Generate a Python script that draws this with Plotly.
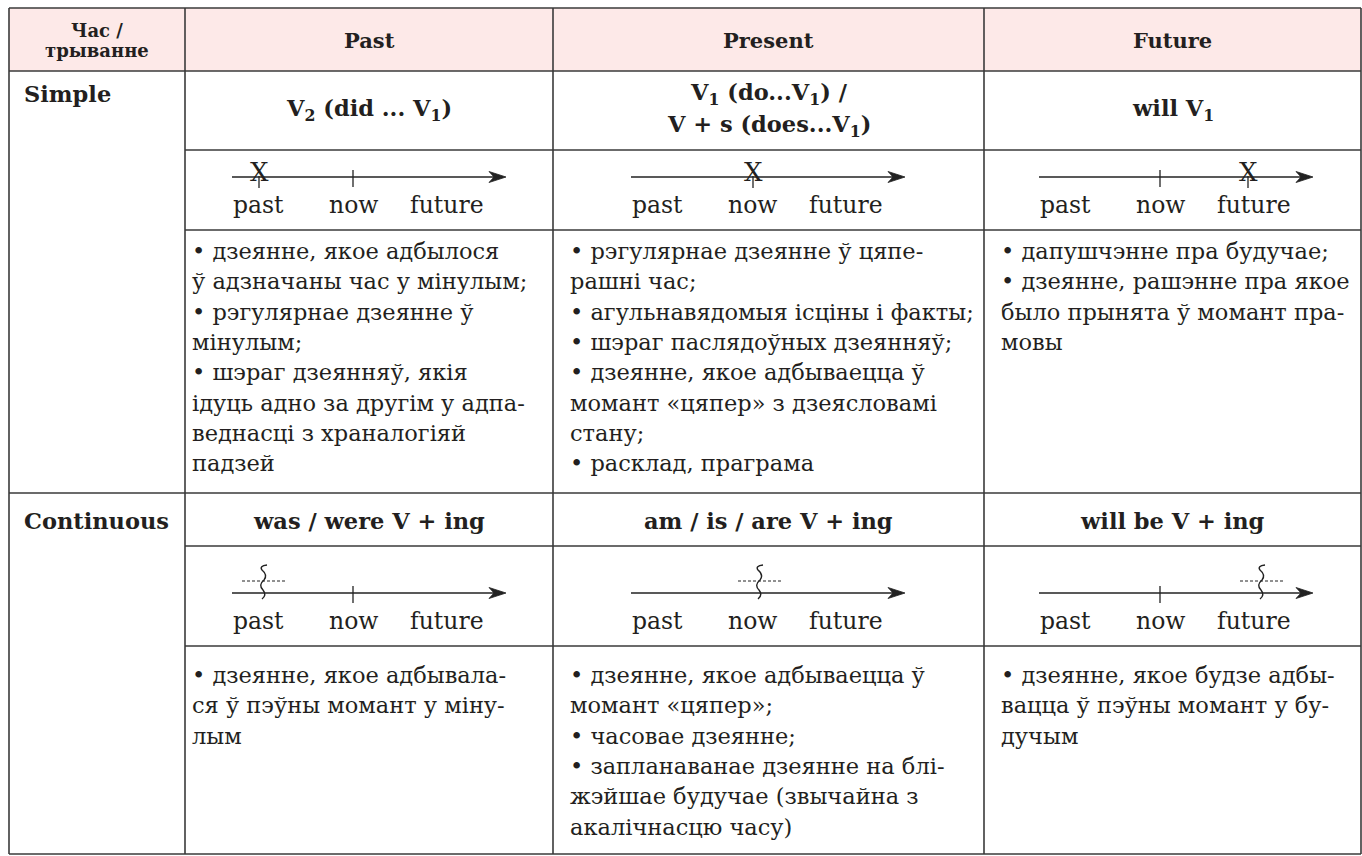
import plotly.graph_objects as go

# ---------------- data (texts) ----------------
header_labels = ["Час /<br>трыванне", "Past", "Present", "Future"]
aspect_labels = ["Simple", "Continuous"]

simple_formulas = [
    ["V<sub>2</sub> (did ... V<sub>1</sub>)"],
    ["V<sub>1</sub> (do...V<sub>1</sub>) /", "V + s (does...V<sub>1</sub>)"],
    ["will V<sub>1</sub>"],
]
continuous_formulas = [
    ["was / were V + ing"],
    ["am / is / are V + ing"],
    ["will be V + ing"],
]
timeline_words = ["past", "now", "future"]
# index of the timeline word where the event is marked, per column
simple_marks = [0, 1, 2]
continuous_marks = [0, 1, 2]

simple_uses = [
    ["• дзеянне, якое адбылося",
     "ў адзначаны час у мінулым;",
     "• рэгулярнае дзеянне ў",
     "мінулым;",
     "• шэраг дзеянняў, якія",
     "ідуць адно за другім у адпа-",
     "веднасці з храналогіяй",
     "падзей"],
    ["• рэгулярнае дзеянне ў цяпе-",
     "рашні час;",
     "• агульнавядомыя ісціны і факты;",
     "• шэраг паслядоўных дзеянняў;",
     "• дзеянне, якое адбываецца ў",
     "момант «цяпер» з дзеясловамі",
     "стану;",
     "• расклад, праграма"],
    ["• дапушчэнне пра будучае;",
     "• дзеянне, рашэнне пра якое",
     "было прынята ў момант пра-",
     "мовы"],
]
continuous_uses = [
    ["• дзеянне, якое адбывала-",
     "ся ў пэўны момант у міну-",
     "лым"],
    ["• дзеянне, якое адбываецца ў",
     "момант «цяпер»;",
     "• часовае дзеянне;",
     "• запланаванае дзеянне на блі-",
     "жэйшае будучае (звычайна з",
     "акалічнасцю часу)"],
    ["• дзеянне, якое будзе адбы-",
     "вацца ў пэўны момант у бу-",
     "дучым"],
]

# ---------------- layout constants ----------------
W, H = 1362, 856
COL_X = [9, 185, 553, 984, 1361]
ROW_Y = [8, 71, 150, 230, 493, 546, 646, 854]
ARROW_START = [232, 631, 1039]
WORD_OFFSETS = [26, 121, 215]      # label centres relative to arrow start
MARK_OFFSETS_S = [27, 122, 209]
MARK_OFFSETS_C = [31, 128, 222]
ARROW_LEN = 274
TEXT_LEFT = [190, 568, 999]
LINE_H = 30.3
BODY_SIZE = 22.5

FONT = "DejaVu Serif, Liberation Serif, Noto Serif, serif"
INK = "#231f20"
LINE = "#3a3a3a"
PINK = "#fde9e8"

fig = go.Figure()
shapes = []
ann = []


def text(x, y, s, size, bold=False, xanchor="center"):
    ann.append(dict(x=x, y=y, xref="x", yref="y", text=(f"<b>{s}</b>" if bold else s),
                    showarrow=False, xanchor=xanchor, yanchor="middle",
                    font=dict(family=FONT, size=size, color=INK)))


def seg(x0, y0, x1, y1, width=1.5, color=LINE, dash=None):
    d = dict(type="line", x0=x0, y0=y0, x1=x1, y1=y1, xref="x", yref="y",
             line=dict(color=color, width=width))
    if dash:
        d["line"]["dash"] = dash
    shapes.append(d)


# header background
shapes.append(dict(type="rect", x0=COL_X[0], x1=COL_X[-1], y0=ROW_Y[0], y1=ROW_Y[1],
                   xref="x", yref="y", fillcolor=PINK, line=dict(width=0), layer="below"))

# grid lines
for x in COL_X:
    seg(x, ROW_Y[0], x, ROW_Y[-1], width=1.6)
for i, y in enumerate(ROW_Y):
    if i in (0, 1, 4, 7):
        seg(COL_X[0], y, COL_X[-1], y, width=1.6)
    else:
        seg(COL_X[1], y, COL_X[-1], y, width=1.6)

# header
hx = (COL_X[0] + COL_X[1]) / 2
for k, s in enumerate(header_labels[0].split("<br>")):
    text(hx, 30 + k * 20, s, 18, bold=True)
for j in range(3):
    text((COL_X[j + 1] + COL_X[j + 2]) / 2, 40, header_labels[j + 1], 21, bold=True)

# aspect labels
text(22, 94, aspect_labels[0], 22.5, bold=True, xanchor="left")
text(22, 521, aspect_labels[1], 22.5, bold=True, xanchor="left")


def formulas(lines_list, yc):
    for j, lines in enumerate(lines_list):
        xc = (COL_X[j + 1] + COL_X[j + 2]) / 2
        n = len(lines)
        for k, s in enumerate(lines):
            y = yc + (k - (n - 1) / 2) * 32
            text(xc, y, s, 22.5, bold=True)


formulas(simple_formulas, 110)
formulas(continuous_formulas, 521)


def arrow(x0, y):
    xt = x0 + ARROW_LEN
    seg(x0, y, xt - 8, y, width=1.5, color="#222")
    shapes.append(dict(type="path", xref="x", yref="y",
                       path=f"M {xt},{y} L {xt-17},{y-5.5} L {xt-12},{y} L {xt-17},{y+5.5} Z",
                       fillcolor="#222", line=dict(color="#222", width=0.8)))


def labels(x0, y):
    for k, w in enumerate(timeline_words):
        text(x0 + WORD_OFFSETS[k], y, w, 23.5)


# simple timelines
for j in range(3):
    x0 = ARROW_START[j]
    y = 177
    arrow(x0, y)
    labels(x0, 205)
    mx = x0 + MARK_OFFSETS_S[simple_marks[j]]
    nx = x0 + WORD_OFFSETS[1] - 0
    if simple_marks[j] != 1:
        seg(nx, 170, nx, 187, width=1.3, color="#222")
    seg(mx, 176, mx, 188, width=1.3, color="#222")
    text(mx, 172, "X", 26)

# continuous timelines
for j in range(3):
    x0 = ARROW_START[j]
    y = 593
    arrow(x0, y)
    labels(x0, 621)
    mx = x0 + MARK_OFFSETS_C[continuous_marks[j]]
    nx = x0 + WORD_OFFSETS[1]
    if continuous_marks[j] != 1:
        seg(nx, 586, nx, 603, width=1.3, color="#222")
    seg(mx - 21, 581, mx + 22, 581, width=1, color="#222", dash="3px,2px")
    p = (f"M {mx+4},565 Q {mx-4},566 {mx-1},570 Q {mx+5},575 {mx+1},580 "
         f"Q {mx-5},585 {mx},590 Q {mx+4},595 {mx-1},599")
    shapes.append(dict(type="path", xref="x", yref="y", path=p,
                       line=dict(color="#222", width=1.4)))

# usage texts
for j in range(3):
    for k, s in enumerate(simple_uses[j]):
        text(TEXT_LEFT[j], 251 + k * LINE_H, s, BODY_SIZE, xanchor="left")
    for k, s in enumerate(continuous_uses[j]):
        text(TEXT_LEFT[j], 675 + k * LINE_H, s, BODY_SIZE, xanchor="left")

fig.update_layout(
    width=W, height=H, margin=dict(l=0, r=0, t=0, b=0),
    paper_bgcolor="white", plot_bgcolor="white",
    xaxis=dict(range=[0, W], visible=False, fixedrange=True),
    yaxis=dict(range=[H, 0], visible=False, fixedrange=True),
    shapes=shapes, annotations=ann, showlegend=False,
)

fig.write_html("out.html", config={"displayModeBar": False},
               post_script="document.body.style.margin='0';document.body.style.overflow='hidden';")
